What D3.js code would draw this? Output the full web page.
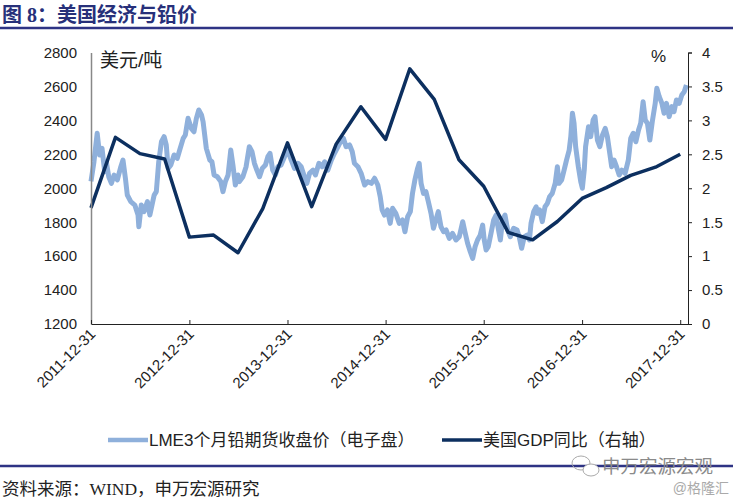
<!DOCTYPE html>
<html><head><meta charset="utf-8">
<script src="https://cdn.jsdelivr.net/npm/d3@7/dist/d3.min.js"></script>
<style>
html,body{margin:0;padding:0;background:#fff;}
svg{display:block;}
</style>
</head><body>
<svg id="chart" width="733" height="501"></svg>
<script>
const titleText = "图 8：美国经济与铅价";
const sourceText = "资料来源：WIND，申万宏源研究";
const leftUnit = "美元/吨";
const rightUnit = "%";
const seriesNames = ["LME3个月铅期货收盘价（电子盘）", "美国GDP同比（右轴）"];
const xTickLabels = ["2011-12-31","2012-12-31","2013-12-31","2014-12-31","2015-12-31","2016-12-31","2017-12-31"];
const leftTicks = [1200,1400,1600,1800,2000,2200,2400,2600,2800];
const rightTicks = [0,0.5,1,1.5,2,2.5,3,3.5,4];
const rightTickLabels = ["0","0.5","1","1.5","2","2.5","3","3.5","4"];

const gdpDates = ["2011-12-31","2012-03-31","2012-06-30","2012-09-30","2012-12-31","2013-03-31","2013-06-30","2013-09-30","2013-12-31","2014-03-31","2014-06-30","2014-09-30","2014-12-31","2015-03-31","2015-06-30","2015-09-30","2015-12-31","2016-03-31","2016-06-30","2016-09-30","2016-12-31","2017-03-31","2017-06-30","2017-09-30","2017-12-31"];
const gdpValues = [1.71,2.75,2.51,2.43,1.28,1.31,1.05,1.70,2.67,1.73,2.65,3.20,2.72,3.76,3.31,2.42,2.03,1.35,1.24,1.51,1.85,2.01,2.19,2.31,2.50];

const leadDates = [
"2011-12-31","2012-01-11","2012-01-23","2012-02-01","2012-02-10","2012-02-20","2012-02-26","2012-03-06","2012-03-16","2012-03-26",
"2012-04-07","2012-04-20","2012-04-28","2012-05-07","2012-05-14","2012-05-27","2012-06-11","2012-06-23","2012-06-26","2012-07-05",
"2012-07-15","2012-07-28","2012-08-06","2012-08-14","2012-08-22","2012-08-30","2012-09-08","2012-09-18","2012-09-28","2012-10-06",
"2012-10-13","2012-10-23","2012-11-04","2012-11-16","2012-11-25","2012-12-08","2012-12-16","2012-12-26","2013-01-07","2013-01-17",
"2013-01-26","2013-02-04","2013-02-14","2013-02-20","2013-02-26","2013-03-04","2013-03-17","2013-03-25","2013-04-02","2013-04-14",
"2013-04-27","2013-05-05","2013-05-14","2013-05-24","2013-06-03","2013-06-11","2013-06-20","2013-06-30","2013-07-05","2013-07-18",
"2013-07-30","2013-08-11","2013-08-21","2013-08-30","2013-09-08","2013-09-18","2013-09-28","2013-10-10","2013-10-19","2013-10-27",
"2013-11-06","2013-11-16","2013-11-25","2013-12-07","2013-12-20","2014-01-01","2014-01-14","2014-01-26","2014-02-08","2014-02-20",
"2014-03-04","2014-03-13","2014-03-23","2014-04-05","2014-04-14","2014-04-27","2014-05-09","2014-05-18","2014-05-30","2014-06-12",
"2014-06-24","2014-07-07","2014-07-19","2014-07-27","2014-08-06","2014-08-19","2014-08-29","2014-09-06","2014-09-19","2014-10-01",
"2014-10-14","2014-10-26","2014-11-08","2014-11-20","2014-12-02","2014-12-11","2014-12-18","2014-12-27","2015-01-07","2015-01-17",
"2015-01-26","2015-02-07","2015-02-20","2015-03-04","2015-03-13","2015-03-23","2015-04-02","2015-04-10","2015-04-19","2015-04-29",
"2015-05-05","2015-05-12","2015-05-21","2015-05-30","2015-06-08","2015-06-18","2015-06-27","2015-07-06","2015-07-15","2015-07-25",
"2015-08-04","2015-08-13","2015-08-25","2015-09-06","2015-09-19","2015-10-01","2015-10-14","2015-10-22","2015-11-01","2015-11-11",
"2015-11-20","2015-11-29","2015-12-08","2015-12-18","2015-12-27","2016-01-02","2016-01-09","2016-01-17","2016-01-27","2016-02-06",
"2016-02-15","2016-02-23","2016-03-02","2016-03-10","2016-03-19","2016-03-29","2016-04-08","2016-04-20","2016-05-03","2016-05-11",
"2016-05-20","2016-05-30","2016-06-09","2016-06-18","2016-06-24","2016-07-04","2016-07-13","2016-07-18","2016-07-26","2016-08-05",
"2016-08-15","2016-08-24","2016-09-01","2016-09-11","2016-09-22","2016-09-30","2016-10-06","2016-10-16","2016-10-25","2016-11-03",
"2016-11-13","2016-11-19","2016-11-25","2016-12-01","2016-12-07","2016-12-17","2016-12-26","2017-01-01","2017-01-08","2017-01-13",
"2017-01-24","2017-02-01","2017-02-10","2017-02-17","2017-02-26","2017-03-07","2017-03-17","2017-03-27","2017-04-04","2017-04-13",
"2017-04-20","2017-04-29","2017-05-08","2017-05-18","2017-05-28","2017-06-09","2017-06-21","2017-06-30","2017-07-09","2017-07-19",
"2017-07-29","2017-08-06","2017-08-15","2017-08-23","2017-08-31","2017-09-09","2017-09-19","2017-09-29","2017-10-05","2017-10-14",
"2017-10-24","2017-11-01","2017-11-10","2017-11-20","2017-11-30","2017-12-08","2017-12-17","2017-12-27","2018-01-06","2018-01-15",
"2018-01-23"];
const leadPrices = [
2040,2156,2324,2196,2235,2097,2156,2068,2029,2078,
2049,2127,2166,2059,1960,1921,1901,1842,1773,1901,
1862,1921,1842,1901,1960,1980,2156,2274,2304,2255,
2117,2137,2196,2176,2225,2294,2314,2412,2353,2333,
2412,2461,2432,2392,2314,2235,2166,2156,2078,2068,
2039,1980,2039,2078,2225,2137,2019,2078,2039,2068,
2127,2245,2215,2147,2107,2068,2117,2137,2186,2206,
2107,2078,2127,2137,2186,2225,2166,2117,2147,2127,
2068,2029,2088,2107,2078,2147,2127,2156,2107,2166,
2206,2245,2284,2294,2245,2255,2215,2147,2127,2088,
2019,2039,2029,2059,2019,1950,1872,1842,1872,1793,
1882,1852,1793,1813,1744,1832,1862,1970,2049,2117,
2147,2029,1970,1980,1921,1852,1764,1813,1862,1773,
1744,1754,1705,1734,1695,1714,1803,1744,1676,1626,
1587,1656,1695,1724,1783,1695,1636,1656,1734,1813,
1842,1764,1695,1813,1842,1754,1714,1764,1754,1714,
1646,1714,1724,1695,1793,1862,1891,1852,1872,1803,
1891,1911,1950,1970,2029,2127,2029,2049,2107,2166,
2225,2304,2442,2383,2245,2127,2039,2000,2107,2245,
2363,2304,2402,2422,2284,2245,2314,2353,2304,2206,
2127,2166,2127,2078,2107,2088,2166,2294,2324,2274,
2343,2383,2510,2402,2383,2284,2402,2500,2589,2540,
2500,2442,2500,2422,2481,2451,2520,2500,2550,2569,
2608];

const xDomain = ["2011-12-31","2018-01-29"];

const parse = d3.timeParse("%Y-%m-%d");
const svg = d3.select("#chart");
const L = 91, R = 688, T = 52.5, B = 324;

const x = d3.scaleTime().domain(xDomain.map(parse)).range([L, R]);
const yL = d3.scaleLinear().domain([1200, 2800]).range([B, T]);
const yR = d3.scaleLinear().domain([0, 4]).range([B, T]);

const cjk = "'Liberation Sans','Noto Sans CJK SC',Arial,sans-serif";
const serif = "'Liberation Serif','Noto Sans CJK SC',serif";
const navy = "#2e3384";

// Title
svg.append("text").attr("x", 2).attr("y", 22)
  .attr("font-family", serif).attr("font-weight", "bold").attr("font-size", 20)
  .attr("fill", "#27307a").text(titleText);
svg.append("line").attr("x1", 0).attr("x2", 733).attr("y1", 28).attr("y2", 28)
  .attr("stroke", navy).attr("stroke-width", 2.5);

// Lead line
const leadData = leadDates.map((d, i) => ({ d: parse(d), v: leadPrices[i] }));
svg.append("path").datum(leadData)
  .attr("fill", "none").attr("stroke", "#8fb0db").attr("stroke-width", 5)
  .attr("stroke-linejoin", "round")
  .attr("d", d3.line().x(p => x(p.d)).y(p => yL(p.v)));

// GDP line
const gdpData = gdpDates.map((d, i) => ({ d: parse(d), v: gdpValues[i] }));
svg.append("path").datum(gdpData)
  .attr("fill", "none").attr("stroke", "#0c2f5f").attr("stroke-width", 3.5)
  .attr("stroke-linejoin", "round")
  .attr("d", d3.line().x(p => x(p.d)).y(p => yR(p.v)));

// Left axis
const gL = svg.append("g").attr("transform", `translate(${L},0)`)
  .call(d3.axisLeft(yL).tickValues(leftTicks).tickSize(0).tickPadding(14).tickFormat(d3.format("d")));
gL.select(".domain").attr("stroke", "#888").attr("stroke-width", 1.5);
gL.selectAll("text").attr("font-family", cjk).attr("font-size", 15).attr("fill", "#222");

// Right axis
const gR = svg.append("g").attr("transform", `translate(${R},0)`)
  .call(d3.axisRight(yR).tickValues(rightTicks).tickSize(4).tickPadding(10)
    .tickFormat((d, i) => rightTickLabels[i]));
gR.select(".domain").attr("stroke", "#222").attr("stroke-width", 1);
gR.selectAll(".tick line").attr("stroke", "#222");
gR.selectAll("text").attr("font-family", cjk).attr("font-size", 15).attr("fill", "#222");

// Bottom axis
const gB = svg.append("g").attr("transform", `translate(0,${B})`)
  .call(d3.axisBottom(x).tickValues(xTickLabels.map(parse)).tickSizeInner(-4).tickSizeOuter(0)
    .tickFormat(d3.timeFormat("%Y-%m-%d")));
gB.select(".domain").attr("stroke", "#222").attr("stroke-width", 1.2);
gB.selectAll(".tick line").attr("stroke", "#222");
gB.selectAll("text").attr("font-family", cjk).attr("font-size", 15).attr("fill", "#222")
  .attr("text-anchor", "end").attr("dy", null).attr("y", 0)
  .attr("transform", "translate(5,11) rotate(-45)");

// Unit labels
svg.append("text").attr("x", 100).attr("y", 67).attr("font-family", cjk).attr("font-size", 19)
  .attr("fill", "#222").text(leftUnit);
svg.append("text").attr("x", 651).attr("y", 62).attr("font-family", cjk).attr("font-size", 17)
  .attr("fill", "#222").text(rightUnit);

// Legend
const lg = svg.append("g");
lg.append("line").attr("x1", 108).attr("x2", 148).attr("y1", 440).attr("y2", 440)
  .attr("stroke", "#8fb0db").attr("stroke-width", 4.5);
lg.append("text").attr("x", 149).attr("y", 446).attr("font-family", cjk).attr("font-size", 17)
  .attr("fill", "#222").text(seriesNames[0]);
lg.append("line").attr("x1", 442).attr("x2", 482).attr("y1", 440).attr("y2", 440)
  .attr("stroke", "#0c2f5f").attr("stroke-width", 3.5);
lg.append("text").attr("x", 483).attr("y", 446).attr("font-family", cjk).attr("font-size", 17)
  .attr("fill", "#222").text(seriesNames[1]);

// Footer line
svg.append("line").attr("x1", 0).attr("x2", 733).attr("y1", 466).attr("y2", 466)
  .attr("stroke", navy).attr("stroke-width", 2.5);

// Source
svg.append("text").attr("x", 2).attr("y", 495).attr("font-family", serif).attr("font-size", 17.5)
  .attr("fill", "#222").text(sourceText);

// Watermark
const wm = svg.append("g").attr("fill", "none").attr("stroke", "#aaa").attr("stroke-width", 1);
wm.append("ellipse").attr("cx", 581).attr("cy", 463).attr("rx", 9).attr("ry", 7);
wm.append("ellipse").attr("cx", 591).attr("cy", 470).attr("rx", 8).attr("ry", 6).attr("fill", "#fff");
svg.append("text").attr("x", 602).attr("y", 473).attr("font-family", cjk).attr("font-size", 18.5)
  .attr("fill", "#8a8a8a").text("申万宏源宏观");
svg.append("text").attr("x", 729).attr("y", 493).attr("text-anchor", "end").attr("font-family", cjk)
  .attr("font-size", 14).attr("fill", "#aaa").text("@格隆汇");
</script>
</body></html>
